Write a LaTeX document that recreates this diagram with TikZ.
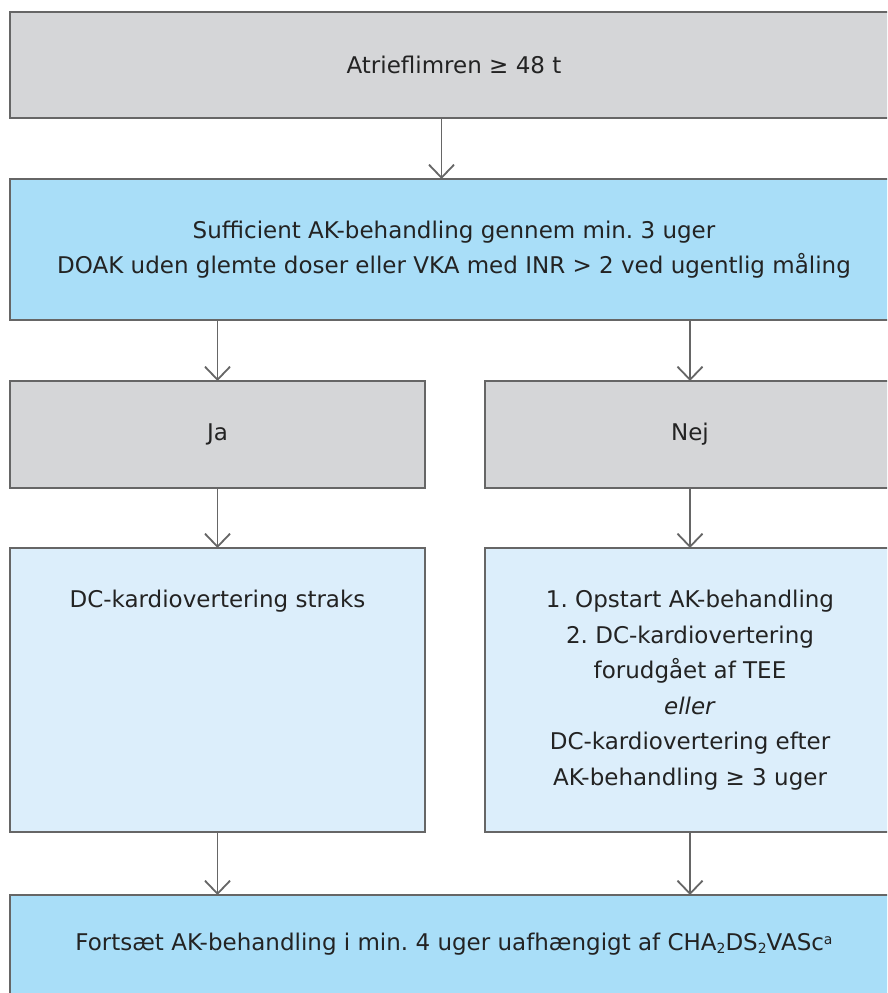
\documentclass[tikz,border=0pt]{standalone}
\usepackage{fontspec}
\setmainfont{DejaVu Sans}
\usetikzlibrary{arrows.meta}
\definecolor{boxgray}{HTML}{D5D6D8}
\definecolor{boxblue}{HTML}{A9DEF8}
\definecolor{boxlight}{HTML}{DCEEFB}
\definecolor{edge}{HTML}{666666}
\definecolor{ink}{HTML}{232323}
\frenchspacing
\newcommand{\smallsub}[1]{\raisebox{-3pt}{\fontsize{14}{14}\selectfont #1}}
\newcommand{\smallsup}[1]{\raisebox{6pt}{\fontsize{14}{14}\selectfont #1}}
\tikzset{
  box/.style={draw=edge, line width=1.6pt, inner sep=0pt, outer sep=0pt, anchor=north west,
    text=ink, align=center, font=\fontsize{23}{35.5}\selectfont},
  txt/.style={inner sep=0pt, outer sep=0pt, text=ink, align=center, font=\fontsize{23}{35.5}\selectfont},
  arr/.style={draw=edge, line width=1.8pt, -{Straight Barb[length=13pt,width=25pt]}},
}
\begin{document}
\begin{tikzpicture}[x=1pt,y=-1pt]
\clip (0,0) rectangle (887,993);
\fill[white] (0,0) rectangle (887,993);
\node[box, fill=boxgray, minimum width=888pt, minimum height=106pt] (top) at (10,12) {Atrieflimren ≥ 48 t};
\node[box, fill=boxblue, minimum width=888pt, minimum height=141pt] (suff) at (10,179)
  {Sufficient AK-behandling gennem min. 3 uger\\DOAK uden glemte doser eller VKA med INR > 2 ved ugentlig måling};
\node[box, fill=boxgray, minimum width=415pt, minimum height=107pt] (ja) at (10,381) {Ja};
\node[box, fill=boxgray, minimum width=410pt, minimum height=107pt] (nej) at (485,381) {Nej};
\node[box, fill=boxlight, minimum width=415pt, minimum height=284pt] (left) at (10,548) {};
\node[box, fill=boxlight, minimum width=410pt, minimum height=284pt] (right) at (485,548)
  {1. Opstart AK-behandling\\2. DC-kardiovertering\\forudgået af TEE\\\textit{eller}\\DC-kardiovertering efter\\AK-behandling ≥ 3 uger};
\node[box, fill=boxblue, minimum width=888pt, minimum height=115pt] (bot) at (10,895) {};
\node[txt, anchor=base] (dcs) at (left.north |- 0,607) {DC-kardiovertering straks};
\node[txt, anchor=base] (fort) at (454,950) {Fortsæt AK-behandling i min. 4 uger uafhængigt af CHA\smallsub{2}DS\smallsub{2}VASc\smallsup{a}};
\draw[arr] ([xshift=-12.5pt]top.south) -- ([xshift=-12.5pt]suff.north);
\draw[arr] (suff.south -| ja.north) -- (ja.north);
\draw[arr] (suff.south -| nej.north) -- (nej.north);
\draw[arr] (ja.south) -- (left.north);
\draw[arr] (nej.south) -- (right.north);
\draw[arr] (left.south) -- (left.south |- bot.north);
\draw[arr] (right.south) -- (right.south |- bot.north);
\end{tikzpicture}
\end{document}
